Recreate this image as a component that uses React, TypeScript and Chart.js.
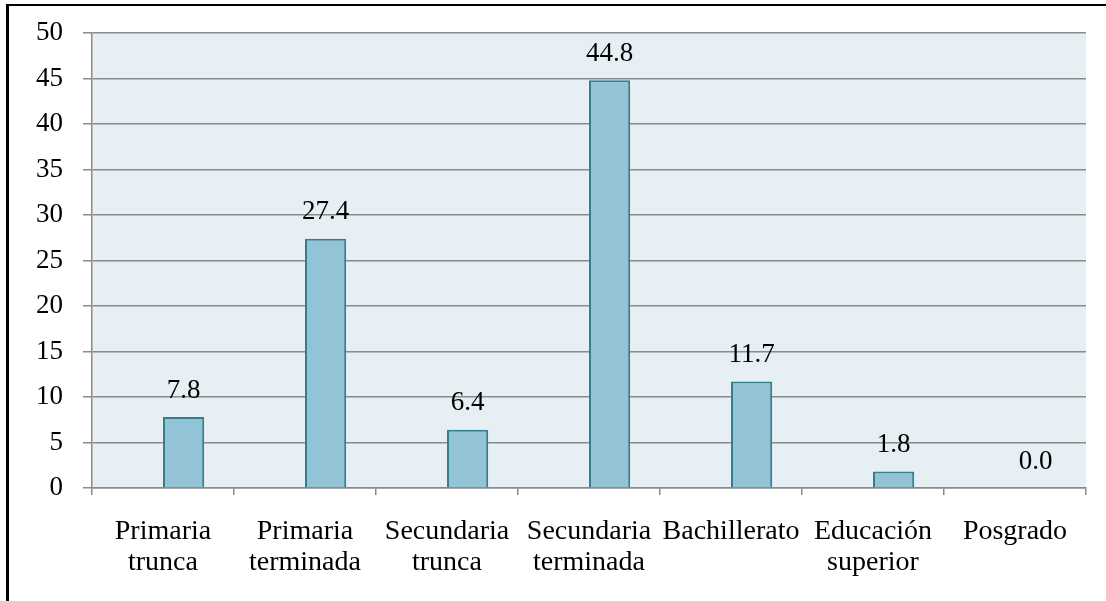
import React, { useEffect, useRef } from "react";
import { Chart, registerables } from "chart.js";

Chart.register(...registerables);

const categories: (string | string[])[] = [
  ["Primaria", "trunca"],
  ["Primaria", "terminada"],
  ["Secundaria", "trunca"],
  ["Secundaria", "terminada"],
  "Bachillerato",
  ["Educación", "superior"],
  "Posgrado",
];
const values: number[] = [7.8, 27.4, 6.4, 44.8, 11.7, 1.8, 0.0];
const emptySeries: (number | null)[] = [null, null, null, null, null, null, null];
const yTicks: number[] = [0, 5, 10, 15, 20, 25, 30, 35, 40, 45, 50];

const FONT = "'Liberation Serif', serif";
const FS = 27;

const bgPlugin = {
  id: "plotBg",
  beforeDraw(chart: any) {
    const { ctx, chartArea } = chart;
    ctx.save();
    ctx.fillStyle = "#e6eff3";
    ctx.fillRect(chartArea.left, chartArea.top, chartArea.right - chartArea.left, chartArea.bottom - chartArea.top);
    ctx.restore();
  },
};

const labelPlugin = {
  id: "valueLabels",
  afterDatasetsDraw(chart: any) {
    const { ctx } = chart;
    const meta = chart.getDatasetMeta(1);
    ctx.save();
    ctx.font = `${FS}px ${FONT}`;
    ctx.fillStyle = "#000";
    ctx.textAlign = "center";
    ctx.textBaseline = "middle";
    meta.data.forEach((bar: any, i: number) => {
      ctx.fillText(values[i].toFixed(1), bar.x, bar.y - 26.5);
    });
    ctx.restore();
  },
};

export default function App() {
  const ref = useRef<HTMLCanvasElement>(null);
  useEffect(() => {
    if (!ref.current) return;
    const chart = new Chart(ref.current, {
      type: "bar",
      data: {
        labels: categories,
        datasets: [
          {
            data: emptySeries,
            backgroundColor: "transparent",
            borderWidth: 0,
            barPercentage: 1,
            categoryPercentage: 0.58,
          },
          {
            data: values,
            backgroundColor: "#93c4d5",
            borderColor: "#357d93",
            borderWidth: 2,
            barPercentage: 1,
            categoryPercentage: 0.58,
          },
        ],
      },
      options: {
        responsive: false,
        animation: false,
        layout: { padding: { top: 33, right: 20, left: 0, bottom: 0 } },
        plugins: { legend: { display: false }, tooltip: { enabled: false } },
        scales: {
          x: {
            grid: { drawOnChartArea: false, drawTicks: true, tickLength: 7, color: "#8a8a8a", lineWidth: 1.5 },
            border: { color: "#8a8a8a", width: 1.5 },
            ticks: { color: "#000", font: { family: FONT, size: 28, lineHeight: 1.08 }, padding: 22, maxRotation: 0, autoSkip: false },
            afterFit: (s: any) => { s.height = 113; s.paddingLeft = 0; s.paddingRight = 0; },
          },
          y: {
            min: 0,
            max: 50,
            afterBuildTicks: (s: any) => { s.ticks = yTicks.map((v) => ({ value: v })); },
            grid: { color: "#8a8a8a", lineWidth: 1.5, tickLength: 9 },
            border: { color: "#8a8a8a", width: 1.5 },
            ticks: { color: "#000", font: { family: FONT, size: FS }, padding: 20 },
            afterFit: (s: any) => { s.width = 92; s.paddingTop = 0; s.paddingBottom = 0; },
          },
        },
      },
      plugins: [bgPlugin, labelPlugin],
    });
    return () => chart.destroy();
  }, []);
  return (
    <div style={{ position: "absolute", left: 0, top: 0, width: 1106, height: 601, overflow: "hidden", background: "#fff" }}>
      <canvas ref={ref} width={1106} height={601} style={{ position: "absolute", left: 0, top: 0 }} />
      <div style={{ position: "absolute", left: 6, top: 4, width: 1300, height: 800, borderLeft: "3px solid #000", borderTop: "2px solid #000", pointerEvents: "none" }} />
    </div>
  );
}
